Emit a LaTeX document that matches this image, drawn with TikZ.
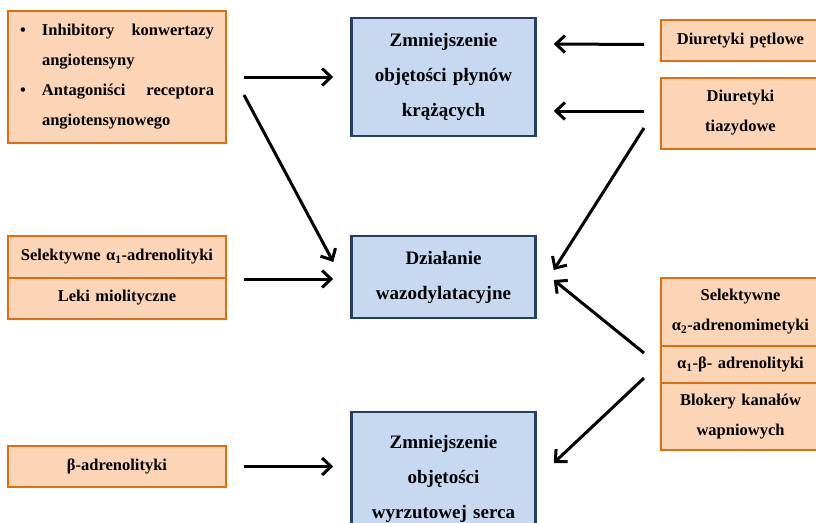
\documentclass[tikz,border=0pt]{standalone}
\usepackage{fontspec}
\setmainfont{Liberation Serif}
\usetikzlibrary{arrows.meta}
\definecolor{peach}{HTML}{FBD5B5}
\definecolor{rust}{HTML}{E46C0A}
\definecolor{paleblue}{HTML}{C6D9F1}
\definecolor{navy}{HTML}{243F60}
\newcommand{\bul}[1]{{\hangindent=22pt\hangafter=1\noindent\makebox[22pt][l]{•}#1\par}}
\begin{document}
\begin{tikzpicture}[x=1pt,y=-1pt,
	drug/.style={draw=rust,fill=peach,line width=2pt,font=\fontsize{16.5}{30}\selectfont\bfseries,align=center,inner xsep=4pt,inner ysep=2pt},
	leftdrug/.style={drug,minimum width=218pt,text width=210pt},
	rightdrug/.style={drug,minimum width=159pt,text width=151pt},
	effect/.style={draw=navy,fill=paleblue,line width=2.5pt,font=\fontsize{19}{35}\selectfont\bfseries,align=center,minimum width=184pt,text width=170pt},
	arr/.style={-{Straight Barb[length=9pt,width=17pt]},line width=3pt}]
	\useasboundingbox (0,0) rectangle (816,522);
	
	\node[leftdrug,text width=194pt,inner xsep=12pt,minimum height=132pt,align=justify] (inh) at (117,77)
		{\bul{Inhibitory konwertazy angiotensyny}\bul{Antagoniści receptora angiotensynowego}};
	\node[leftdrug,minimum height=42pt] (sel1) at (117,257) {Selektywne α\textsubscript{1}-adrenolityki};
	\node[leftdrug,minimum height=41pt] (leki) at (117,298) {Leki miolityczne};
	\node[leftdrug,minimum height=41pt] (beta) at (117,466.5) {β-adrenolityki};
	
	\node[effect,minimum height=118pt] (b1) at (443.5,77) {Zmniejszenie\\objętości płynów\\krążących};
	\node[effect,minimum height=82pt] (b2) at (443.5,277) {Działanie\\wazodylatacyjne};
	\node[effect,minimum height=134pt] (b3) at (443.5,479) {Zmniejszenie\\objętości\\wyrzutowej serca};
	
	\node[rightdrug,minimum height=41pt] (pet) at (740.5,40.5) {Diuretyki pętlowe};
	\node[rightdrug,minimum height=71pt] (tia) at (740.5,113) {Diuretyki\\tiazydowe};
	\node[rightdrug,minimum height=68pt] (sel2) at (740.5,312) {Selektywne\\α\textsubscript{2}-adrenomimetyki};
	\node[rightdrug,minimum height=37pt] (ab) at (740.5,364.5) {α\textsubscript{1}-β- adrenolityki};
	\node[rightdrug,minimum height=67pt] (blk) at (740.5,416.5) {Blokery kanałów\\wapniowych};
	
	\draw[arr] ([xshift=17pt]inh.east) -- ([xshift=-17pt]b1.west);
	\draw[arr] ([shift={(17pt,-18pt)}]inh.east) -- ([shift={(-17pt,15pt)}]b2.west);
	\draw[arr] ([xshift=17pt]sel1.south east) -- ([xshift=-17pt]b2.west |- sel1.south east);
	\draw[arr] ([xshift=17pt]beta.east) -- ([xshift=-17pt]b3.west |- beta.east);
	
	\draw[arr] ([shift={(-16pt,-4pt)}]pet.west) -- ([shift={(17pt,33pt)}]b1.east);
	\draw[arr] ([shift={(-16pt,2pt)}]tia.west) -- ([shift={(17pt,-34pt)}]b1.east);
	\draw[arr] ([shift={(-16pt,-15pt)}]tia.west) -- ([shift={(17pt,7pt)}]b2.east);
	\draw[arr] ([shift={(-16pt,11.5pt)}]ab.west) -- ([shift={(17pt,-3pt)}]b2.east);
	\draw[arr] ([shift={(-16pt,-13.5pt)}]ab.west) -- ([shift={(17pt,16pt)}]b3.east);
\end{tikzpicture}
\end{document}
